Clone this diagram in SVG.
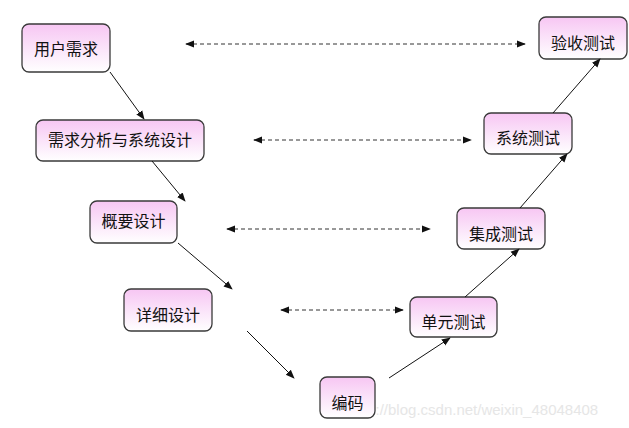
<svg xmlns="http://www.w3.org/2000/svg" width="629" height="428" viewBox="0 0 629 428">
<defs>
<linearGradient id="g" x1="0" y1="0" x2="0" y2="1">
<stop offset="0" stop-color="#f7c6f3"/>
<stop offset="0.55" stop-color="#fbe6fa"/>
<stop offset="1" stop-color="#ffffff"/>
</linearGradient>
<marker id="ah" viewBox="0 0 10 10" refX="9" refY="5" markerWidth="9" markerHeight="9" markerUnits="userSpaceOnUse" orient="auto-start-reverse">
<path d="M0,1 L10,5 L0,9 Z" fill="#111"/>
</marker>
</defs>
<style>
.n rect{fill:url(#g);stroke:#3a3a3a;stroke-width:1.3}
.n text{font-family:"Noto Sans CJK SC","Noto Sans CJK JP",sans-serif;font-size:16px;fill:#111;text-anchor:middle}
.s{stroke:#111;stroke-width:1;fill:none;marker-end:url(#ah)}
.d{stroke:#333;stroke-width:1;stroke-dasharray:4,3;fill:none;marker-start:url(#ah);marker-end:url(#ah)}
.w{font-family:"Liberation Sans",Arial,sans-serif;font-size:15px;fill:#e6e6e6}
</style>
<rect width="629" height="428" fill="#ffffff"/>
<text class="w" x="343" y="415">https://blog.csdn.net/weixin_48048408</text>
<g id="n1" class="n"><rect x="22" y="24" width="88" height="48" rx="7"/><text x="66" y="55">用户需求</text></g>
<g id="n2" class="n"><rect x="36" y="120" width="168" height="41" rx="7"/><text x="120" y="146">需求分析与系统设计</text></g>
<g id="n3" class="n"><rect x="90" y="201" width="87" height="42" rx="7"/><text x="133.5" y="227">概要设计</text></g>
<g id="n4" class="n"><rect x="124" y="289" width="88" height="42" rx="7"/><text x="168" y="321">详细设计</text></g>
<g id="n5" class="n"><rect x="320" y="377" width="55" height="41" rx="7"/><text x="347.5" y="409">编码</text></g>
<g id="n6" class="n"><rect x="410" y="297" width="87" height="40" rx="7"/><text x="453.5" y="328">单元测试</text></g>
<g id="n7" class="n"><rect x="457" y="208" width="88" height="41" rx="7"/><text x="501" y="240">集成测试</text></g>
<g id="n8" class="n"><rect x="484" y="113" width="88" height="41" rx="7"/><text x="528" y="144">系统测试</text></g>
<g id="n9" class="n"><rect x="539" y="17" width="88" height="42" rx="7"/><text x="583" y="49">验收测试</text></g>
<g id="connectors">
<line class="s" x1="110" y1="72" x2="144" y2="119"/>
<line class="s" x1="152" y1="161" x2="185" y2="201"/>
<line class="s" x1="178" y1="243" x2="232" y2="289"/>
<line class="s" x1="247" y1="331" x2="294" y2="378"/>
<line class="s" x1="389" y1="378" x2="450" y2="338"/>
<line class="s" x1="465" y1="297" x2="519" y2="249"/>
<line class="s" x1="520" y1="208" x2="567" y2="154"/>
<line class="s" x1="553" y1="113" x2="600" y2="59"/>
<line class="d" x1="186" y1="44" x2="525" y2="44"/>
<line class="d" x1="254" y1="140" x2="471" y2="140"/>
<line class="d" x1="227" y1="229" x2="430" y2="229"/>
<line class="d" x1="281" y1="310" x2="403" y2="310"/>
</g>
</svg>
